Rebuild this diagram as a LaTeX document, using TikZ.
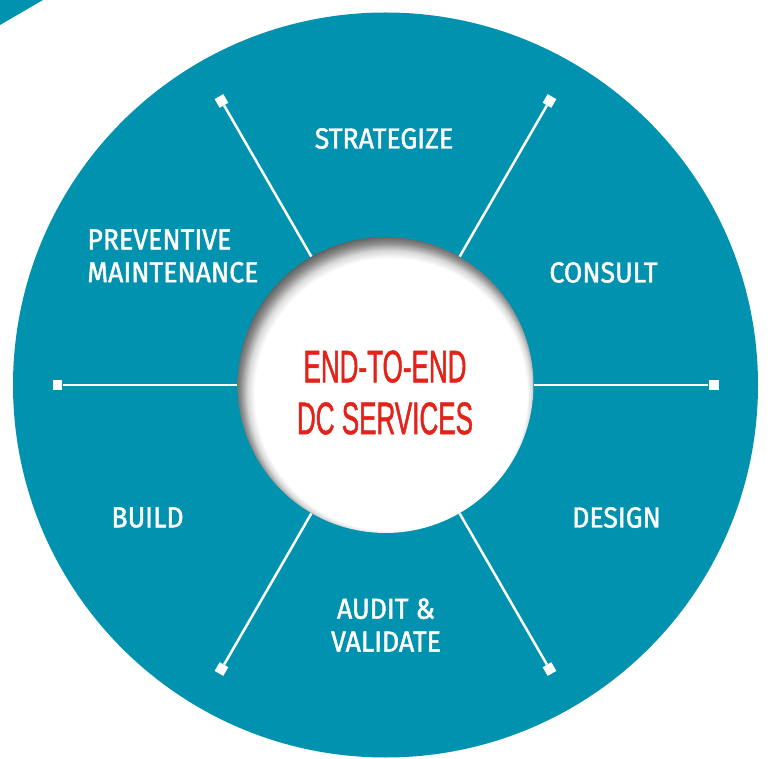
\documentclass[tikz,border=0pt]{standalone}
\usepackage{fontspec}
\usepackage{xcolor}
\usepackage{tikz}
\newfontfamily\stagefont[FakeStretch=0.92, FakeBold=1.5]{Fira Sans}
\newfontfamily\hubfont[FakeStretch=0.57, FakeBold=1]{Liberation Sans}
\definecolor{wheel}{RGB}{0,146,175}
\definecolor{hubred}{RGB}{226,35,26}
\pgfdeclareradialshading{hubshadow}{\pgfpoint{5bp}{-9bp}}{color(0bp)=(white); color(23bp)=(white); color(24bp)=(black!15); color(25bp)=(black!45); color(26bp)=(black!65); color(28bp)=(black!65)}

\begin{document}
\begin{tikzpicture}[
  x=0.02cm, y=0.02cm,
  every node/.style={inner sep=0pt},
  stage/.style={text=white, font=\stagefont\fontsize{16.5}{18.7}\selectfont, align=center},
  hub/.style={circle, minimum size=5.92cm, shade, shading=hubshadow},
  tip/.style={fill=white, minimum size=0.2cm},
  spoke/.style={white, line width=0.05cm}
]
\useasboundingbox (0,0) rectangle (771,758);
\fill[wheel] (385.5,373) circle (372.5);
\fill[wheel] (0,733) -- (43,758) -- (0,758) -- cycle;

\node[hub] (hub) at (385.5,373) {};
\node[text=hubred, font=\hubfont\fontsize{26}{29.5}\selectfont, align=center] (hubtext) at (385,365.5) {END-TO-END\\DC SERVICES};

\foreach \a in {0,60,...,300}
  \node[tip, rotate=\a] (tip\a) at ([shift={(\a:328)}]hub.center) {};
\foreach \a in {0,60,...,300}
  \draw[spoke] (hub.\a) -- (tip\a);

\node[stage] (strategize) at (384,619.5) {STRATEGIZE};
\node[stage] (consult) at (603.5,485.5) {CONSULT};
\node[stage] (design) at (616.5,240.5) {DESIGN};
\node[stage] (audit) at (386,133) {AUDIT \&\\VALIDATE};
\node[stage] (build) at (147.5,240.5) {BUILD};
\node[stage, align=left, anchor=west] (preventive) at (87,502) {PREVENTIVE\\MAINTENANCE};
\end{tikzpicture}
\end{document}
